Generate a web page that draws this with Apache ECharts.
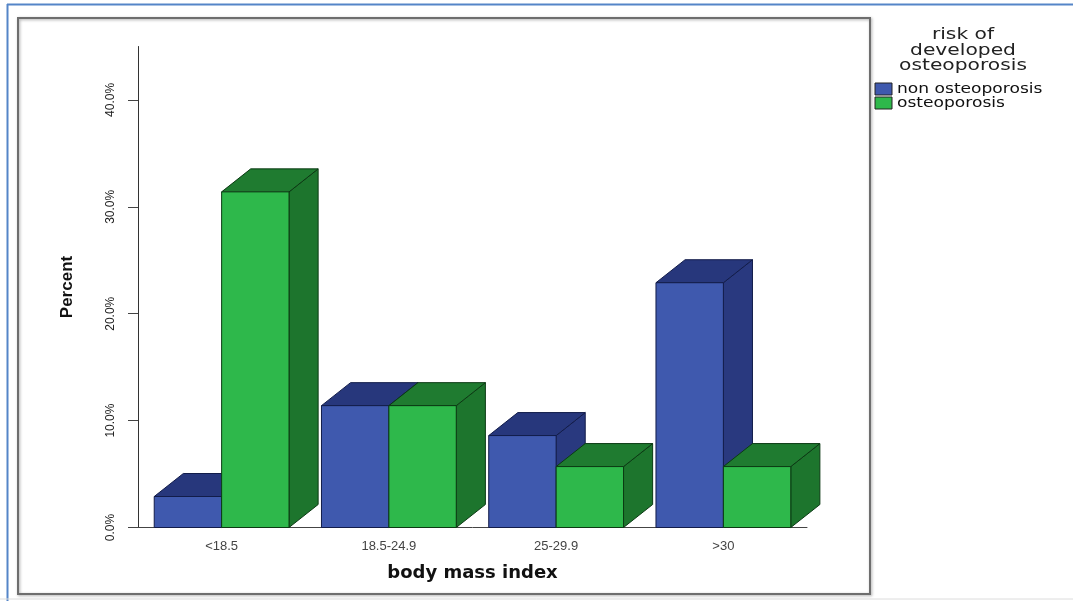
<!DOCTYPE html>
<html>
<head>
<meta charset="utf-8">
<title>body mass index</title>
<script src="https://cdn.jsdelivr.net/npm/echarts@6/dist/echarts.min.js"></script>
<style>
  html, body { margin: 0; padding: 0; background: #fff; }
  #chart { width: 1073px; height: 601px; }
</style>
</head>
<body>
<div id="chart"></div>
<script>
// Categories and percentages per group
const categories = ['<18.5', '18.5-24.9', '25-29.9', '>30'];
const nonOsteoporosis = [2.9, 11.4, 8.6, 22.9];
const osteoporosis = [31.4, 11.4, 5.7, 5.7];
const yTicks = [0, 10, 20, 30, 40];
const seriesNames = ['non osteoporosis', 'osteoporosis'];
const legendTitle = ['risk of', 'developed', 'osteoporosis'];

// Face colours for each group: front, top, side, outline
const palette = [
  { front: '#3F59AE', top: '#27377C', side: '#29397F', edge: '#121c4a' },
  { front: '#2EB84B', top: '#1F7B30', side: '#1D752D', edge: '#0b3a13' }
];

// 3D-looking bar: front rectangle plus slanted top and right side
function makeRenderer(idx) {
  return function (params, api) {
    const ci = api.value(0);
    const v = api.value(1);
    const topPt = api.coord([ci, v]);
    const basePt = api.coord([ci, 0]);
    const band = api.size([1, 0])[0];
    const w = band * 0.403;
    const dx = band * 0.174;
    const dy = 23;
    const x0 = idx === 0 ? topPt[0] - w : topPt[0];
    const x1 = x0 + w;
    const yt = topPt[1];
    const yb = basePt[1];
    const c = palette[idx];
    return {
      type: 'group',
      children: [
        {
          type: 'polygon',
          shape: { points: [[x1, yt], [x1 + dx, yt - dy], [x1 + dx, yb - dy], [x1, yb]] },
          style: { fill: c.side, stroke: c.edge, lineWidth: 1 }
        },
        {
          type: 'polygon',
          shape: { points: [[x0, yt], [x1, yt], [x1 + dx, yt - dy], [x0 + dx, yt - dy]] },
          style: { fill: c.top, stroke: c.edge, lineWidth: 1 }
        },
        {
          type: 'rect',
          shape: { x: x0, y: yt, width: w, height: yb - yt },
          style: { fill: c.front, stroke: c.edge, lineWidth: 1 }
        }
      ]
    };
  };
}

const groups = [nonOsteoporosis, osteoporosis];
const series = groups.map((vals, idx) => ({
  name: seriesNames[idx],
  type: 'custom',
  renderItem: makeRenderer(idx),
  encode: { x: 0, y: 1 },
  clip: false,
  itemStyle: { color: palette[idx].front },
  data: vals.map((v, i) => [i, v])
}));

const textFont = 'DejaVu Sans, Liberation Sans, sans-serif';
const legendItems = seriesNames.map((name, idx) => ({
  type: 'group',
  x: 875,
  y: 83 + idx * 14,
  children: [
    {
      type: 'rect',
      shape: { x: 0, y: 0, width: 17, height: 12 },
      style: { fill: palette[idx].front, stroke: '#222', lineWidth: 1 }
    },
    {
      type: 'text',
      x: 22,
      y: 6,
      scaleX: 1.22,
      style: {
        text: name,
        font: '14px ' + textFont,
        fill: '#111',
        textAlign: 'left',
        textVerticalAlign: 'middle'
      }
    }
  ]
}));
const legendHead = legendTitle.map((line, i) => ({
  type: 'text',
  x: 963,
  y: 35 + i * 15.8,
  scaleX: 1.35,
  style: {
    text: line,
    font: '15px ' + textFont,
    fill: '#222',
    textAlign: 'center',
    textVerticalAlign: 'middle'
  }
}));

const chart = echarts.init(document.getElementById('chart'), null, { renderer: 'canvas' });
chart.setOption({
  animation: false,
  backgroundColor: '#ffffff',
  grid: { left: 138, right: 266, top: 46.5, bottom: 73.5 },
  xAxis: {
    type: 'category',
    data: categories,
    boundaryGap: true,
    name: 'body mass index',
    nameLocation: 'middle',
    nameGap: 37,
    nameTextStyle: { fontFamily: textFont, fontWeight: 'bold', fontSize: 18, color: '#111' },
    axisLine: { lineStyle: { color: '#444', width: 1 } },
    axisTick: { alignWithLabel: true, length: 8, lineStyle: { color: '#222' } },
    axisLabel: { margin: 12, fontFamily: 'Liberation Sans, Arial, sans-serif', fontSize: 13, color: '#444' }
  },
  yAxis: {
    type: 'value',
    min: 0,
    max: 45,
    interval: 10,
    name: 'Percent',
    nameLocation: 'middle',
    nameGap: 62,
    nameTextStyle: { fontFamily: 'Liberation Sans Narrow, Liberation Sans, sans-serif', fontWeight: 'bold', fontSize: 17, color: '#111' },
    splitLine: { show: false },
    axisLine: { show: true, lineStyle: { color: '#333', width: 1 } },
    axisTick: { show: true, length: 10, customValues: yTicks, lineStyle: { color: '#444' } },
    axisLabel: {
      customValues: yTicks,
      rotate: 90,
      margin: 21,
      fontFamily: 'Liberation Sans Narrow, Liberation Sans, sans-serif',
      fontSize: 12,
      color: '#222',
      formatter: v => v.toFixed(1) + '%'
    }
  },
  series: series,
  graphic: [
    {
      type: 'rect',
      z: -10,
      shape: { x: 18, y: 18, width: 852, height: 576 },
      style: { fill: 'none', stroke: '#6e6e6e', lineWidth: 2, shadowBlur: 3, shadowColor: 'rgba(0,0,0,0.35)', shadowOffsetX: 1, shadowOffsetY: 1 }
    },
    {
      type: 'line',
      shape: { x1: 7, y1: 4.5, x2: 1073, y2: 4.5 },
      style: { stroke: '#5585C8', lineWidth: 2 }
    },
    {
      type: 'line',
      shape: { x1: 7.5, y1: 4, x2: 7.5, y2: 601 },
      style: { stroke: '#5585C8', lineWidth: 2 }
    },
    {
      type: 'line',
      shape: { x1: 0, y1: 599, x2: 1073, y2: 599 },
      style: { stroke: '#dcdcdc', lineWidth: 1 }
    }
  ].concat(legendHead, legendItems)
});
</script>
</body>
</html>
